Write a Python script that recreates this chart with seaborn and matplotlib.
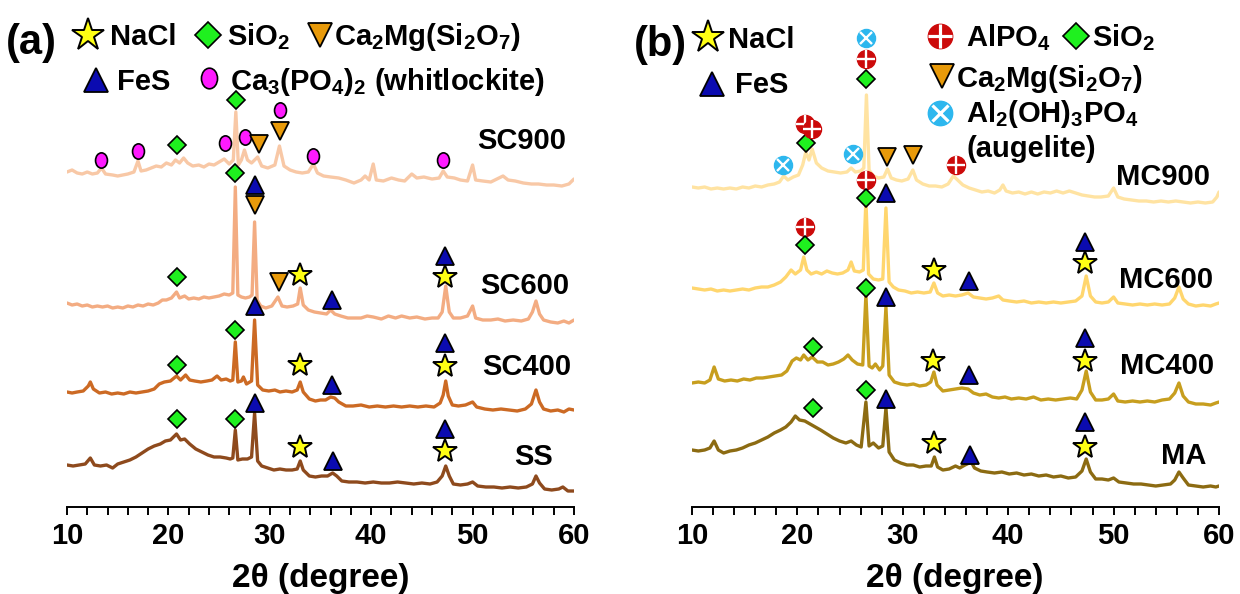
import matplotlib
matplotlib.use("Agg")
import matplotlib.pyplot as plt
import seaborn as sns
from matplotlib.path import Path
from matplotlib.transforms import Affine2D
from matplotlib.ticker import MultipleLocator

# ---------------------------------------------------------------- data
# XRD patterns: 2-theta (degree) and stacked intensity (a.u., offset per sample)
SS_2theta = [10, 10.6, 11.2, 11.8, 12.3, 12.7, 13.3, 13.9, 14.5, 15.0, 15.6, 16.2, 16.8, 17.4, 18.0, 18.6,
             19.2, 19.7, 20.2, 20.8, 21.2, 21.6, 22.1, 22.7, 23.3, 23.9, 24.5, 25.1, 25.7, 26.1, 26.35, 26.6,
             26.85, 27.3, 27.8, 28.2, 28.5, 28.8, 29.2, 29.8, 30.4, 31.0, 31.6, 32.2, 32.7, 33.0, 33.3, 33.9,
             34.5, 35.1, 35.7, 36.2, 36.6, 37.1, 37.8, 38.6, 39.4, 40.2, 41.0, 41.8, 42.6, 43.4, 44.2, 45.0,
             45.8, 46.5, 47.0, 47.35, 47.7, 48.1, 48.8, 49.5, 50.0, 50.5, 51.3, 52.1, 52.9, 53.7, 54.5, 55.3,
             55.9, 56.25, 56.6, 57.1, 57.8, 58.5, 58.9, 59.4, 60.0]
SS_counts = [42, 41, 42, 43, 49, 42, 41, 42, 39, 43, 45, 47, 50, 54, 58, 61,
             63, 66, 67, 73, 67, 68, 63, 58, 55, 52, 50, 50, 49, 48, 49, 77,
             47, 48, 48, 50, 94, 46, 41, 39, 37, 38, 37, 37, 38, 46, 37, 31,
             30, 31, 31, 34, 31, 26, 25, 25, 24, 25, 24, 24, 25, 24, 23, 24,
             23, 25, 31, 41, 31, 23, 22, 23, 25, 21, 20, 20, 19, 20, 19, 20,
             23, 31, 24, 18, 17, 18, 20, 16, 16]

SC400_2theta = [10, 10.5, 11, 11.6, 12.1, 12.3, 12.6, 13.2, 13.8, 14.4, 15.0, 15.6, 16.2, 16.8, 17.4, 18.0,
                18.6, 19.1, 19.6, 20.2, 20.8, 21.2, 21.7, 22.1, 22.6, 23.2, 23.8, 24.3, 24.8, 25.2, 25.7, 26.1,
                26.35, 26.6, 26.85, 27.2, 27.4, 27.7, 28.2, 28.5, 28.8, 29.3, 29.9, 30.5, 31.0, 31.6, 32.2, 32.7,
                33.0, 33.3, 33.9, 34.5, 35.0, 35.5, 36.0, 36.4, 36.8, 37.5, 38.2, 39.0, 39.8, 40.6, 41.4, 42.2,
                43.0, 43.8, 44.6, 45.4, 46.2, 46.8, 47.1, 47.35, 47.6, 48.0, 48.6, 49.3, 50.0, 50.4, 51.2, 52.0,
                52.8, 53.6, 54.4, 55.2, 55.8, 56.25, 56.6, 57.0, 57.7, 58.4, 59.0, 59.5, 60.0]
SC400_counts = [115, 114, 115, 116, 121, 125, 118, 114, 115, 113, 114, 113, 115, 114, 115, 116,
                118, 123, 125, 126, 131, 127, 132, 127, 126, 125, 126, 127, 131, 127, 128, 126,
                127, 165, 125, 126, 130, 123, 126, 187, 122, 117, 116, 117, 115, 116, 115, 117,
                125, 115, 108, 106, 107, 107, 110, 109, 105, 101, 101, 102, 100, 101, 100, 101,
                100, 101, 100, 101, 100, 104, 112, 126, 111, 102, 101, 102, 105, 100, 98, 97,
                98, 97, 96, 98, 103, 117, 105, 98, 96, 97, 95, 98, 97]

SC600_2theta = [10, 10.5, 11, 11.5, 12, 12.5, 13, 13.5, 14, 14.5, 15, 15.5, 16, 16.5, 17, 17.5,
                18, 18.5, 19.0, 19.4, 19.8, 20.3, 20.8, 21.1, 21.6, 22.0, 22.5, 23.0, 23.5, 24.0, 24.5, 25.0,
                25.5, 26.0, 26.35, 26.6, 26.85, 27.2, 27.6, 28.0, 28.25, 28.5, 28.75, 29.1, 29.6, 30.2, 30.8, 31.2,
                31.7, 32.3, 32.75, 33.0, 33.3, 33.8, 34.4, 35.0, 35.6, 36.0, 36.4, 37.0, 37.7, 38.4, 39.0, 39.6,
                40.2, 41.0, 41.7, 42.4, 43.0, 43.8, 44.5, 45.3, 46.0, 46.6, 47.0, 47.35, 47.7, 48.1, 48.8, 49.5,
                50.0, 50.3, 51.0, 51.8, 52.5, 53.2, 54.0, 54.8, 55.5, 55.9, 56.25, 56.6, 57.0, 57.7, 58.4, 59.0,
                59.5, 60.0]
SC600_counts = [204, 202, 203, 201, 202, 200, 201, 200, 201, 199, 200, 199, 201, 200, 202, 201,
                203, 202, 204, 207, 207, 209, 215, 209, 211, 208, 209, 208, 210, 209, 210, 211,
                213, 212, 214, 320, 212, 210, 209, 210, 212, 285, 207, 201, 199, 201, 210, 201,
                200, 201, 203, 219, 202, 197, 195, 194, 193, 197, 193, 191, 189, 189, 189, 191,
                190, 188, 191, 189, 191, 189, 190, 188, 189, 189, 195, 221, 195, 189, 189, 191,
                201, 189, 187, 187, 188, 186, 187, 186, 188, 195, 206, 193, 187, 185, 184, 186,
                184, 187]

SC900_2theta = [10, 10.5, 11, 11.5, 12, 12.5, 13, 13.4, 13.8, 14.5, 15, 15.5, 16, 16.6, 17.0, 17.3,
                17.8, 18.3, 18.8, 19.3, 19.8, 20.3, 20.7, 21.1, 21.5, 21.9, 22.4, 23.0, 23.5, 24.0, 24.5, 25.0,
                25.5, 26.0, 26.4, 26.65, 26.9, 27.2, 27.5, 27.8, 28.2, 28.8, 29.2, 29.8, 30.5, 30.95, 31.4, 32.0,
                32.6, 33.2, 33.8, 34.3, 34.7, 35.3, 36.0, 36.8, 37.5, 38.3, 39.0, 39.4, 39.8, 40.2, 40.5, 41.2,
                42.0, 42.7, 43.3, 44.0, 44.5, 45.2, 46.0, 46.7, 47.1, 47.5, 48.2, 48.8, 49.5, 50.0, 50.3, 51.0,
                51.8, 52.6, 53.0, 53.5, 54.2, 55.0, 55.8, 56.5, 57.3, 58.0, 58.8, 59.5, 60.0]
SC900_counts = [335, 337, 334, 333, 335, 333, 334, 339, 333, 332, 331, 332, 333, 335, 346, 336,
                337, 339, 341, 340, 344, 342, 347, 344, 349, 344, 341, 342, 340, 343, 342, 345,
                348, 343, 347, 395, 342, 347, 357, 347, 344, 350, 341, 339, 342, 361, 341, 337,
                335, 334, 335, 343, 334, 331, 330, 329, 327, 324, 327, 331, 327, 343, 327, 326,
                329, 327, 326, 333, 329, 330, 328, 329, 336, 330, 329, 327, 326, 342, 327, 326,
                325, 329, 331, 327, 326, 324, 323, 323, 322, 322, 321, 323, 328]

MA_2theta = [10, 10.6, 11.2, 11.7, 12.1, 12.5, 13.0, 13.6, 14.2, 14.8, 15.4, 16.0, 16.6, 17.2, 17.8, 18.4,
             18.9, 19.4, 19.8, 20.2, 20.7, 21.2, 21.7, 22.2, 22.8, 23.4, 24.0, 24.6, 25.1, 25.6, 26.05, 26.5,
             26.8, 27.2, 27.7, 28.1, 28.4, 28.7, 29.2, 29.8, 30.4, 31.0, 31.6, 32.2, 32.7, 33.0, 33.3, 33.8,
             34.4, 35.0, 35.4, 35.9, 36.5, 36.8, 37.4, 38.0, 38.7, 39.4, 40.1, 40.8, 41.5, 42.2, 42.9, 43.6,
             44.3, 45.0, 45.7, 46.4, 47.0, 47.4, 47.8, 48.3, 48.9, 49.5, 50.0, 50.5, 51.2, 51.9, 52.6, 53.3,
             54.0, 54.7, 55.4, 55.8, 56.2, 56.6, 57.1, 57.8, 58.5, 59.2, 59.7, 60.0]
MA_counts = [57, 56, 57, 59, 66, 57, 54, 56, 57, 59, 62, 64, 67, 70, 74, 77,
             80, 85, 91, 87, 86, 83, 80, 77, 73, 69, 66, 64, 66, 62, 60, 105,
             61, 64, 59, 61, 99, 55, 47, 44, 42, 42, 40, 41, 41, 50, 40, 37,
             38, 41, 39, 42, 45, 39, 36, 35, 34, 35, 33, 34, 32, 33, 31, 32,
             30, 31, 29, 30, 36, 48, 35, 28, 28, 27, 29, 25, 24, 23, 23, 22,
             21, 22, 23, 27, 35, 29, 22, 21, 20, 21, 20, 21]

MC400_2theta = [10, 10.6, 11.2, 11.7, 12.1, 12.5, 13.1, 13.7, 14.3, 14.9, 15.5, 16.1, 16.7, 17.3, 17.9, 18.5,
                19.0, 19.5, 19.9, 20.3, 20.6, 21.0, 21.4, 21.9, 22.4, 22.9, 23.4, 23.9, 24.4, 24.8, 25.2, 25.7,
                26.2, 26.5, 26.8, 27.1, 27.4, 27.8, 28.1, 28.4, 28.7, 29.2, 29.8, 30.4, 31.0, 31.6, 32.2, 32.65,
                32.95, 33.25, 33.8, 34.4, 35.0, 35.6, 36.2, 36.7, 37.3, 37.9, 38.5, 39.1, 39.7, 40.3, 41.0, 41.7,
                42.4, 43.1, 43.8, 44.5, 45.2, 45.9, 46.5, 47.0, 47.4, 47.8, 48.3, 48.9, 49.5, 50.0, 50.4, 51.1,
                51.8, 52.5, 53.2, 53.9, 54.6, 55.3, 55.8, 56.2, 56.6, 57.1, 57.8, 58.5, 59.2, 59.7, 60.0]
MC400_counts = [124, 125, 124, 127, 140, 128, 126, 127, 126, 128, 127, 129, 129, 130, 131, 132,
                136, 146, 149, 147, 152, 147, 150, 145, 145, 142, 143, 145, 148, 152, 147, 143,
                142, 212, 141, 139, 143, 137, 141, 200, 132, 125, 123, 122, 123, 121, 122, 125,
                135, 122, 116, 117, 118, 119, 118, 114, 112, 113, 110, 109, 110, 108, 109, 108,
                110, 107, 108, 107, 108, 109, 108, 117, 136, 115, 107, 107, 108, 113, 106, 105,
                106, 105, 106, 105, 107, 108, 114, 124, 111, 105, 103, 103, 102, 104, 105]

MC600_2theta = [10, 10.6, 11.2, 11.8, 12.4, 13.0, 13.6, 14.2, 14.8, 15.4, 16.0, 16.6, 17.2, 17.8, 18.4, 18.9,
                19.4, 19.8, 20.3, 20.6, 20.9, 21.3, 21.8, 22.3, 22.8, 23.3, 23.8, 24.3, 24.8, 25.1, 25.4, 25.9,
                26.25, 26.5, 26.75, 27.2, 27.7, 28.1, 28.4, 28.7, 29.1, 29.6, 30.2, 30.8, 31.4, 32.0, 32.6, 32.95,
                33.3, 33.8, 34.4, 35.0, 35.6, 36.2, 36.7, 37.3, 37.9, 38.5, 39.1, 39.5, 40.1, 40.8, 41.5, 42.2,
                42.9, 43.6, 44.3, 45.0, 45.7, 46.4, 47.0, 47.4, 47.8, 48.3, 48.9, 49.5, 50.0, 50.4, 51.1, 51.8,
                52.5, 53.2, 53.9, 54.6, 55.3, 55.8, 56.2, 56.6, 57.1, 57.8, 58.5, 59.2, 59.7, 60.0]
MC600_counts = [219, 218, 217, 218, 216, 217, 216, 217, 218, 217, 219, 220, 220, 222, 225, 230,
                237, 233, 237, 250, 237, 233, 235, 233, 236, 234, 233, 234, 237, 245, 236, 235,
                237, 307, 233, 228, 227, 228, 299, 225, 220, 217, 216, 214, 215, 214, 215, 224,
                214, 211, 212, 211, 212, 214, 210, 209, 208, 209, 211, 207, 206, 205, 206, 204,
                205, 204, 205, 204, 205, 206, 211, 231, 211, 205, 204, 205, 210, 204, 203, 202,
                203, 202, 203, 202, 203, 209, 220, 208, 203, 201, 202, 201, 203, 204]

MC900_2theta = [10, 10.6, 11.2, 11.8, 12.4, 13.0, 13.6, 14.2, 14.8, 15.4, 16.0, 16.6, 17.2, 17.8, 18.3, 18.7,
                19.1, 19.6, 20.1, 20.5, 20.8, 21.1, 21.4, 21.8, 22.3, 22.9, 23.5, 24.1, 24.7, 25.1, 25.5, 26.0,
                26.3, 26.55, 26.8, 27.2, 27.7, 28.2, 28.55, 28.9, 29.4, 29.9, 30.5, 30.95, 31.3, 31.9, 32.5, 33.1,
                33.7, 34.3, 34.8, 35.2, 35.7, 36.3, 36.9, 37.5, 38.1, 38.7, 39.2, 39.5, 39.8, 40.4, 41.0, 41.6,
                42.2, 42.8, 43.4, 44.0, 44.6, 45.2, 45.8, 46.4, 47.0, 47.6, 48.2, 48.8, 49.5, 50.0, 50.4, 51.0,
                51.7, 52.4, 53.1, 53.8, 54.5, 55.2, 55.9, 56.6, 57.3, 58.0, 58.7, 59.4, 59.8, 60.0]
MC900_counts = [320, 319, 320, 318, 319, 318, 319, 318, 320, 319, 321, 320, 322, 323, 325, 331,
                327, 330, 332, 342, 355, 347, 358, 344, 339, 336, 335, 334, 335, 339, 335, 336,
                339, 412, 337, 331, 329, 330, 338, 329, 327, 326, 328, 337, 327, 323, 321, 321,
                320, 323, 331, 327, 322, 319, 317, 315, 316, 314, 317, 322, 316, 314, 315, 313,
                315, 313, 315, 314, 316, 314, 316, 314, 312, 311, 310, 310, 311, 319, 310, 308,
                307, 306, 306, 305, 306, 305, 306, 305, 304, 305, 304, 305, 310, 315]

SAMPLES_A = ["SS", "SC400", "SC600", "SC900"]
SAMPLES_B = ["MA", "MC400", "MC600", "MC900"]
PATTERNS = {
    "SS": (SS_2theta, SS_counts), "SC400": (SC400_2theta, SC400_counts),
    "SC600": (SC600_2theta, SC600_counts), "SC900": (SC900_2theta, SC900_counts),
    "MA": (MA_2theta, MA_counts), "MC400": (MC400_2theta, MC400_counts),
    "MC600": (MC600_2theta, MC600_counts), "MC900": (MC900_2theta, MC900_counts),
}
COLORS = {
    "SS": "#8E4A1D", "SC400": "#CC6A24", "SC600": "#F3AC82", "SC900": "#F8C8A6",
    "MA": "#8C6B12", "MC400": "#C79E1E", "MC600": "#FFD66E", "MC900": "#FFE3A2",
}

# phase identification marks: (phase, 2-theta, height in a.u.)
PHASE_MARKS_A = [
    ("whit", 13.4, 347), ("whit", 17.0, 356), ("SiO2", 20.8, 362), ("whit", 25.6, 364),
    ("SiO2", 26.65, 407), ("whit", 27.6, 370), ("Ca2Mg", 28.9, 363), ("whit", 31.0, 397),
    ("Ca2Mg", 31.0, 376), ("whit", 34.3, 351), ("whit", 47.1, 347),
    ("SiO2", 26.6, 334), ("FeS", 28.5, 322), ("Ca2Mg", 28.5, 302), ("SiO2", 20.8, 230),
    ("Ca2Mg", 30.9, 225), ("NaCl", 33.0, 232), ("FeS", 36.1, 207), ("FeS", 47.3, 251),
    ("NaCl", 47.3, 230),
    ("SiO2", 20.8, 142), ("SiO2", 26.6, 177), ("FeS", 28.5, 201), ("NaCl", 33.0, 142),
    ("FeS", 36.1, 122), ("FeS", 47.3, 164), ("NaCl", 47.3, 141),
    ("SiO2", 20.8, 88), ("SiO2", 26.6, 88), ("FeS", 28.5, 104), ("NaCl", 33.0, 60),
    ("FeS", 36.2, 46), ("FeS", 47.3, 78), ("NaCl", 47.3, 56),
]
PHASE_MARKS_B = [
    ("aug", 18.6, 342), ("SiO2", 20.8, 364), ("AlPO4", 20.7, 383), ("AlPO4", 21.4, 378),
    ("aug", 25.3, 353), ("Ca2Mg", 28.5, 350), ("Ca2Mg", 30.95, 352), ("AlPO4", 35.0, 342),
    ("SiO2", 26.5, 428), ("AlPO4", 26.5, 448), ("aug", 26.5, 469),
    ("AlPO4", 26.5, 327), ("SiO2", 26.5, 309), ("FeS", 28.4, 314), ("AlPO4", 20.7, 280),
    ("SiO2", 20.7, 262), ("NaCl", 33.0, 237), ("FeS", 36.3, 226), ("FeS", 47.3, 265),
    ("NaCl", 47.3, 244),
    ("SiO2", 21.5, 160), ("SiO2", 26.5, 219), ("FeS", 28.4, 210), ("NaCl", 32.9, 146),
    ("FeS", 36.3, 132), ("FeS", 47.3, 169), ("NaCl", 47.3, 146),
    ("SiO2", 21.5, 99), ("SiO2", 26.5, 117), ("FeS", 28.4, 108), ("NaCl", 33.0, 64),
    ("FeS", 36.4, 52), ("FeS", 47.3, 85), ("NaCl", 47.3, 60),
]

TICK_VALUES = [10, 20, 30, 40, 50, 60]

# ---------------------------------------------------------------- style
sns.set_theme(style="white")
plt.rcParams["font.family"] = ["Liberation Sans", "DejaVu Sans"]
plt.rcParams["font.weight"] = "bold"
plt.rcParams["text.color"] = "black"
plt.rcParams["xtick.color"] = "black"
plt.rcParams["xtick.labelcolor"] = "black"
plt.rcParams["mathtext.fontset"] = "custom"
plt.rcParams["mathtext.rm"] = "Liberation Sans:bold"
plt.rcParams["mathtext.it"] = "Liberation Sans:bold"
plt.rcParams["mathtext.bf"] = "Liberation Sans:bold"
plt.rcParams["mathtext.default"] = "bf"

ellipse = Path.unit_circle().transformed(Affine2D().scale(0.78, 1.0))

MARK = {
    "NaCl": dict(marker="*", mfc="#FFFF14", mec="black", mew=1.4, ms=18),
    "SiO2": dict(marker="D", mfc="#1FF01F", mec="black", mew=1.2, ms=9.5),
    "Ca2Mg": dict(marker="v", mfc="#E89A0A", mec="black", mew=1.3, ms=13),
    "FeS": dict(marker="^", mfc="#0B0BB0", mec="black", mew=1.3, ms=13),
    "whit": dict(marker=ellipse, mfc="#FF1AFF", mec="black", mew=1.2, ms=11),
}
ALPO4_COLOR = "#CC0A0A"
AUG_COLOR = "#2DB7EE"


def draw_mark(ax, phase, x, y, scale=1.0, **kw):
    if phase == "AlPO4":
        ms = 13 * scale
        ax.plot(x, y, marker="o", ms=ms, mfc=ALPO4_COLOR, mec=ALPO4_COLOR, ls="none", **kw)
        ax.plot(x, y, marker="+", ms=ms, mec="white", mew=ms * 0.13, ls="none", **kw)
    elif phase == "aug":
        ms = 13 * scale
        ax.plot(x, y, marker="o", ms=ms, mfc=AUG_COLOR, mec=AUG_COLOR, ls="none", **kw)
        ax.plot(x, y, marker="x", ms=ms * 0.62, mec="white", mew=ms * 0.13, ls="none", **kw)
    else:
        st = dict(MARK[phase])
        st["ms"] = st["ms"] * scale
        ax.plot(x, y, ls="none", **st, **kw)


W, H = 1240, 594
fig = plt.figure(figsize=(W / 100, H / 100), dpi=100)
fig.patch.set_facecolor("white")
ax_a = fig.add_axes([67 / W, 1 - 507 / H, 507 / W, 507 / H])
ax_b = fig.add_axes([692 / W, 1 - 507 / H, 527 / W, 507 / H])


def fpx(x, y):
    return (x / W, 1 - y / H)


for ax, samples, marks in ((ax_a, SAMPLES_A, PHASE_MARKS_A), (ax_b, SAMPLES_B, PHASE_MARKS_B)):
    for name in samples:
        tt, cc = PATTERNS[name]
        sns.lineplot(x=tt, y=cc, ax=ax, color=COLORS[name], lw=2.4, estimator=None,
                     sort=False, legend=False, solid_joinstyle="round")
    for phase, x, y in marks:
        draw_mark(ax, phase, x, y, clip_on=False, zorder=5)
    ax.set_xlim(10, 60)
    ax.set_ylim(0, 507)
    for s in ("left", "right", "top"):
        ax.spines[s].set_visible(False)
    ax.spines["bottom"].set_color("black")
    ax.spines["bottom"].set_linewidth(1.4)
    ax.set_yticks([])
    ax.set_xticks(TICK_VALUES)
    ax.set_xticklabels([str(v) for v in TICK_VALUES])
    ax.xaxis.set_minor_locator(MultipleLocator(2))
    ax.tick_params(axis="x", which="both", direction="out", length=5.5, width=1.4,
                   color="black", bottom=True)
    ax.tick_params(axis="x", which="major", labelsize=21, pad=5, labelcolor="black")
    for lab in ax.get_xticklabels():
        lab.set_fontweight("bold")
    ax.set_xlabel("")
    ax.set_ylabel("")
    ax.set_facecolor("none")
    ax.grid(False)

# axis titles
fig.text(*fpx(321, 579), "2θ (degree)", ha="center", va="center", fontsize=24, fontweight="bold")
fig.text(*fpx(955, 579), "2θ (degree)", ha="center", va="center", fontsize=24, fontweight="bold")

# sample names
for name, xr, yc in (("SC900", 566, 141), ("SC600", 569, 286), ("SC400", 571, 367), ("SS", 553, 457),
                     ("MC900", 1210, 177), ("MC600", 1213, 280), ("MC400", 1214, 366), ("MA", 1206, 456)):
    fig.text(*fpx(xr, yc), name, ha="right", va="center", fontsize=21, fontweight="bold")

# panel letters
fig.text(*fpx(6, 54), "(a)", ha="left", va="baseline", fontsize=30, fontweight="bold")
fig.text(*fpx(634, 56), "(b)", ha="left", va="baseline", fontsize=30, fontweight="bold")

# phase keys
key_a = [("NaCl", 88, 35, "NaCl", 110, 45), ("SiO2", 208, 35, "SiO$_2$", 227, 45),
         ("Ca2Mg", 320, 35, "Ca$_2$Mg(Si$_2$O$_7$)", 334, 45),
         ("FeS", 96, 80, "FeS", 117, 90), ("whit", 209, 78, "Ca$_3$(PO$_4$)$_2$ (whitlockite)", 230, 90)]
key_b = [("NaCl", 708, 37, "NaCl", 728, 48), ("FeS", 712, 84, "FeS", 735, 93),
         ("AlPO4", 940, 36, "AlPO$_4$", 966, 46), ("SiO2", 1076, 36, "SiO$_2$", 1092, 46),
         ("Ca2Mg", 942, 76, "Ca$_2$Mg(Si$_2$O$_7$)", 956, 87),
         ("aug", 940, 113, "Al$_2$(OH)$_3$PO$_4$", 966, 122)]
for phase, mx, my, label, tx, ty in key_a + key_b:
    draw_mark(ax_a, phase, *fpx(mx, my), scale=1.35, transform=fig.transFigure, clip_on=False, zorder=6)
    fig.text(*fpx(tx, ty), label, ha="left", va="baseline", fontsize=21, fontweight="bold")
fig.text(*fpx(966, 157), "(augelite)", ha="left", va="baseline", fontsize=21, fontweight="bold")

fig.savefig("out.png", dpi=100, facecolor="white")
